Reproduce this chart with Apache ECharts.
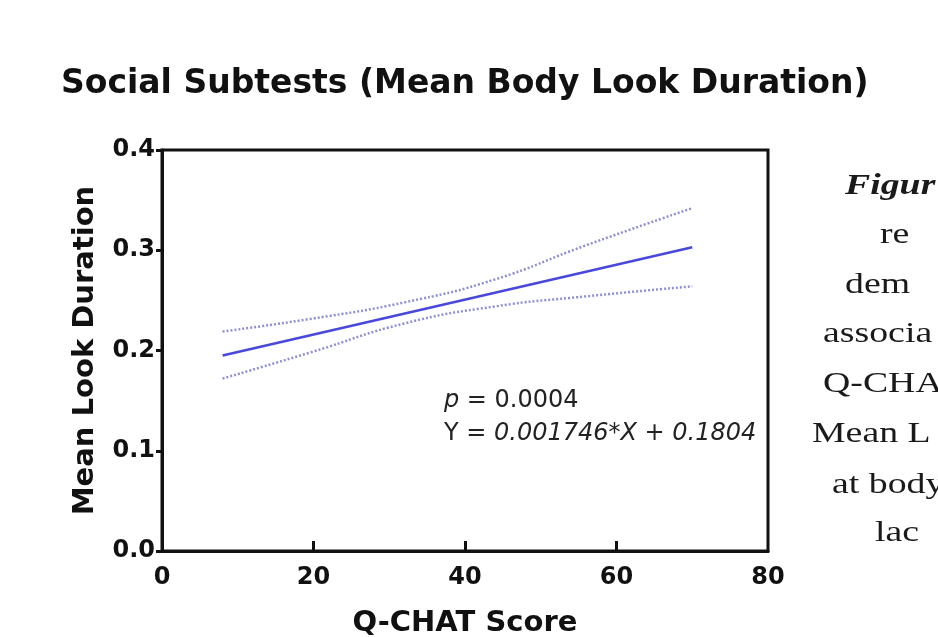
<!DOCTYPE html>
<html>
<head>
<meta charset="utf-8">
<script src="https://cdn.jsdelivr.net/npm/echarts@6/dist/echarts.min.js"></script>
<style>
html,body{margin:0;padding:0;background:#fff;}
#chart{width:938px;height:637px;}
</style>
</head>
<body>
<div id="chart"></div>
<script>
// Data
var fitX = [8, 70];
var fitY = [0.195, 0.303];
var bandX = [8, 20, 32, 44, 56, 70];
var upperY = [0.219, 0.232, 0.248, 0.271, 0.305, 0.342];
var lowerY = [0.172, 0.199, 0.227, 0.244, 0.254, 0.264];
var xTicks = [0, 20, 40, 60, 80];
var xInnerTicks = [20, 40, 60];
var titleText = 'Social Subtests (Mean Body Look Duration)';
var xName = 'Q-CHAT Score';
var yName = 'Mean Look Duration';
var pText = '0.0004';
var eqText = '0.001746*X + 0.1804';
var sideLines = [
  {t: 'Figur', x: 845, y: 189, bold: true},
  {t: 're', x: 880, y: 238},
  {t: 'dem', x: 845, y: 288},
  {t: 'associa', x: 823, y: 337},
  {t: 'Q-CHA', x: 823, y: 387},
  {t: 'Mean L', x: 812, y: 437},
  {t: 'at body', x: 832, y: 488},
  {t: 'lac', x: 875, y: 536}
];

function pairs(xs, ys){ return xs.map(function(x,i){ return [x, ys[i]]; }); }

var chart = echarts.init(document.getElementById('chart'), null, {renderer:'canvas'});
var sans = '"DejaVu Sans", "Liberation Sans", Arial, sans-serif';

var graphics = [];
sideLines.forEach(function(l){
  graphics.push({
    type:'text', left: l.x, top: l.y - 18, scaleX: 1.26,
    style:{ text: l.t, fill:'#1a1a1a',
      font: (l.bold ? 'italic bold ' : '') + '30px "Liberation Serif", "Times New Roman", serif' }
  });
});

var option = {
  backgroundColor:'#fff',
  animation:false,
  title:{
    text: titleText, left: 56, top: 63,
    textStyle:{ fontFamily: sans, fontWeight:'bold', fontSize: 33, color:'#111' }
  },
  grid:{ left:162, right:170, top:150, bottom:86, containLabel:false, outerBoundsMode:'none',
    show:true, borderColor:'#111', borderWidth:3, backgroundColor:'transparent' },
  xAxis:{
    type:'value', min:0, max:80, interval:20,
    name: xName, nameLocation:'middle', nameGap: 58,
    nameTextStyle:{ fontFamily: sans, fontWeight:'bold', fontSize: 29, color:'#111' },
    axisLine:{ show:true, lineStyle:{ color:'#111', width:3 } },
    axisTick:{ show:true, inside:true, length:10, lineStyle:{ color:'#111', width:3 }, customValues: xInnerTicks },
    axisLabel:{ fontFamily: sans, fontWeight:'bold', fontSize: 24, color:'#111', margin: 15, customValues: xTicks },
    splitLine:{ show:false }
  },
  yAxis:{
    type:'value', min:0, max:0.4, interval:0.1,
    name: yName, nameLocation:'middle', nameGap: 62, nameRotate: 90,
    nameTextStyle:{ fontFamily: sans, fontWeight:'bold', fontSize: 29, color:'#111' },
    axisLine:{ show:true, lineStyle:{ color:'#111', width:3 } },
    axisTick:{ show:true, inside:false, length:6, lineStyle:{ color:'#111', width:3 } },
    axisLabel:{ fontFamily: sans, fontWeight:'bold', fontSize: 24, color:'#111', margin: 7,
      formatter: function(v){ return v.toFixed(1); } },
    splitLine:{ show:false }
  },
  series:[
    { type:'line', data: pairs(bandX, upperY), smooth:true, symbol:'none',
      lineStyle:{ color:'#9090d0', width:2.5, type:[2,2] } },
    { type:'line', data: pairs(bandX, lowerY), smooth:true, symbol:'none',
      lineStyle:{ color:'#9090d0', width:2.5, type:[2,2] } },
    { type:'line', data: pairs(fitX, fitY), symbol:'none',
      lineStyle:{ color:'#4848dc', width:2.5 } }
  ],
  graphic: graphics.concat([
    { type:'text', left: 444, top: 389,
      style:{ rich:{ i:{ fontStyle:'italic', fontFamily: sans, fontSize:24, fill:'#222' },
                     n:{ fontFamily: sans, fontSize:24, fill:'#222' } },
              text: '{i|p}{n| = ' + pText + '}' } },
    { type:'text', left: 444, top: 422,
      style:{ rich:{ i:{ fontStyle:'italic', fontFamily: sans, fontSize:24, fill:'#222' },
                     n:{ fontFamily: sans, fontSize:24, fill:'#222' } },
              text: '{n|Y = }{i|' + eqText + '}' } }
  ])
};
chart.setOption(option);
</script>
</body>
</html>
